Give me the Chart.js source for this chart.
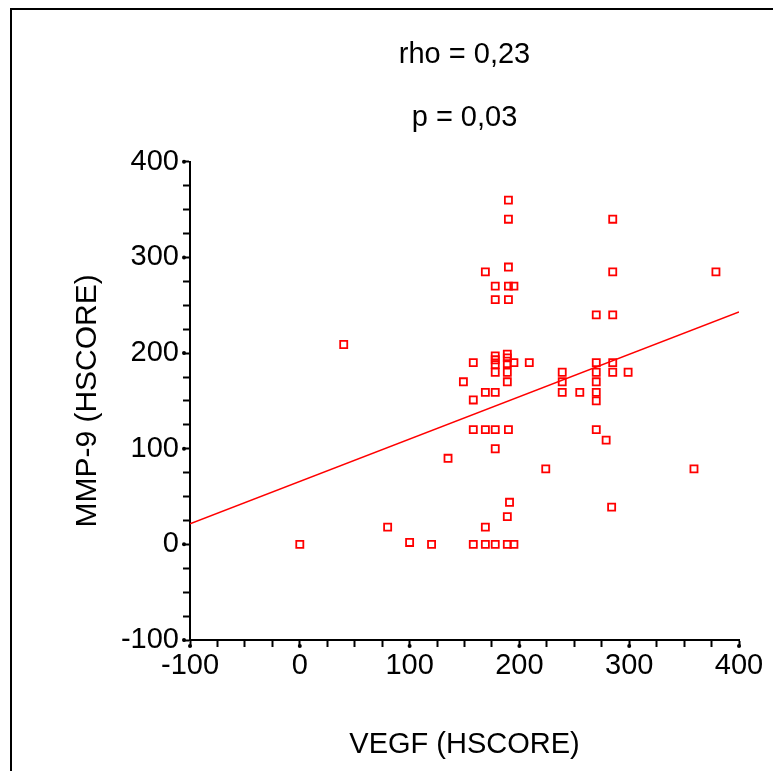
<!DOCTYPE html>
<html>
<head>
<meta charset="utf-8">
<script src="https://cdn.jsdelivr.net/npm/chart.js@4.4.1/dist/chart.umd.min.js"></script>
<style>
  html, body { margin: 0; padding: 0; background: #fff; }
  #wrap { width: 773px; height: 771px; }
</style>
</head>
<body>
<div id="wrap"><canvas id="c" width="773" height="771"></canvas></div>
<script>
// VEGF (HSCORE) values of each patient
const vegf = [0, 40, 80, 100, 120, 135, 149, 158, 158, 158, 158,
  169, 169, 169, 169, 169,
  178, 178, 178, 178, 178, 178, 178, 178, 178, 178,
  190, 190, 190, 190, 190, 189, 189, 189, 189, 189, 190, 191, 189, 189,
  195, 195, 195, 209, 224, 239, 239, 239, 255,
  270, 270, 270, 270, 270, 270, 270, 279,
  285, 285, 285, 285, 285, 284, 299, 359, 379];
// MMP-9 (HSCORE) values of each patient
const mmp9 = [0, 209, 18, 2, 0, 90, 170, 190, 151, 120, 0,
  285, 159, 120, 18, 0,
  270, 256, 197, 193, 188, 180, 159, 120, 100, 0,
  360, 340, 290, 270, 256, 199, 195, 189, 180, 170, 120, 44, 29, 0,
  270, 190, 0, 190, 79, 180, 170, 159, 159,
  240, 190, 180, 170, 159, 150, 120, 109,
  340, 285, 240, 190, 180, 39, 180, 79, 285];
// regression line end points
const fitX = [-100, 400];
const fitY = [21.5, 243];
const titleLines = ['rho = 0,23', 'p = 0,03'];
const xTitle = 'VEGF (HSCORE)';
const yTitle = 'MMP-9 (HSCORE)';
const axisMin = -100, axisMax = 400, minorStep = 25, majorStep = 100;

const FONT = 'Liberation Sans, Arial, Helvetica, sans-serif';
Chart.defaults.font.family = FONT;
Chart.defaults.color = '#000';

const points = vegf.map((v, i) => ({x: v, y: mmp9[i]}));
const fit = fitX.map((v, i) => ({x: v, y: fitY[i]}));

const frameAndDots = {
  id: 'frameAndDots',
  afterDraw(chart) {
    const ctx = chart.ctx;
    ctx.save();
    ctx.strokeStyle = '#000';
    ctx.lineWidth = 2;
    ctx.beginPath();
    ctx.moveTo(11, 771);
    ctx.lineTo(11, 9);
    ctx.lineTo(773, 9);
    ctx.stroke();
    ctx.fillStyle = '#000';
    const xs = chart.scales.x, ys = chart.scales.y;
    for (let v = axisMin; v <= axisMax; v += majorStep) {
      const px = xs.getPixelForValue(v);
      ctx.beginPath(); ctx.arc(px, xs.top + 6, 2, 0, Math.PI * 2); ctx.fill();
      const py = ys.getPixelForValue(v);
      ctx.beginPath(); ctx.arc(ys.right - 6, py, 2, 0, Math.PI * 2); ctx.fill();
    }
    ctx.restore();
  }
};

const tickLabel = v => (v % majorStep === 0 ? String(v) : '');

new Chart(document.getElementById('c'), {
  data: {
    datasets: [
      {
        type: 'scatter',
        data: points,
        pointStyle: 'rect',
        pointRadius: 5,
        pointBorderWidth: 1.8,
        borderColor: '#ff0000',
        backgroundColor: 'rgba(0,0,0,0)',
        order: 1
      },
      {
        type: 'line',
        data: fit,
        borderColor: '#ff0000',
        borderWidth: 1.6,
        pointRadius: 0,
        fill: false,
        order: 2
      }
    ]
  },
  options: {
    responsive: false,
    animation: false,
    layout: { padding: { left: 0, right: 34, top: 0, bottom: 0 } },
    plugins: {
      legend: { display: false },
      tooltip: { enabled: false },
      title: {
        display: true,
        text: titleLines,
        fullSize: false,
        color: '#000',
        font: { size: 29, weight: 'normal', lineHeight: 2.17 },
        padding: { top: 24, bottom: 12 }
      }
    },
    scales: {
      x: {
        type: 'linear',
        min: axisMin, max: axisMax,
        afterFit: s => { s.height = 131; },
        ticks: {
          stepSize: minorStep, autoSkip: false, maxRotation: 0,
          callback: tickLabel,
          font: { size: 29 }, color: '#000', padding: 2
        },
        grid: { display: true, drawOnChartArea: false, drawTicks: true, tickLength: 7, tickColor: '#000', tickWidth: 2 },
        border: { display: true, color: '#000', width: 2 },
        title: { display: true, text: xTitle, color: '#000', font: { size: 29 }, padding: { top: 0, bottom: 9 } }
      },
      y: {
        type: 'linear',
        min: axisMin, max: axisMax,
        afterFit: s => { s.width = 190; },
        ticks: {
          stepSize: minorStep, autoSkip: false,
          callback: tickLabel,
          font: { size: 29 }, color: '#000', padding: 4
        },
        grid: { display: true, drawOnChartArea: false, drawTicks: true, tickLength: 7, tickColor: '#000', tickWidth: 2 },
        border: { display: true, color: '#000', width: 2 },
        title: { display: true, text: yTitle, color: '#000', font: { size: 30 }, padding: { top: 70, bottom: 0 } }
      }
    }
  },
  plugins: [frameAndDots]
});
</script>
</body>
</html>
